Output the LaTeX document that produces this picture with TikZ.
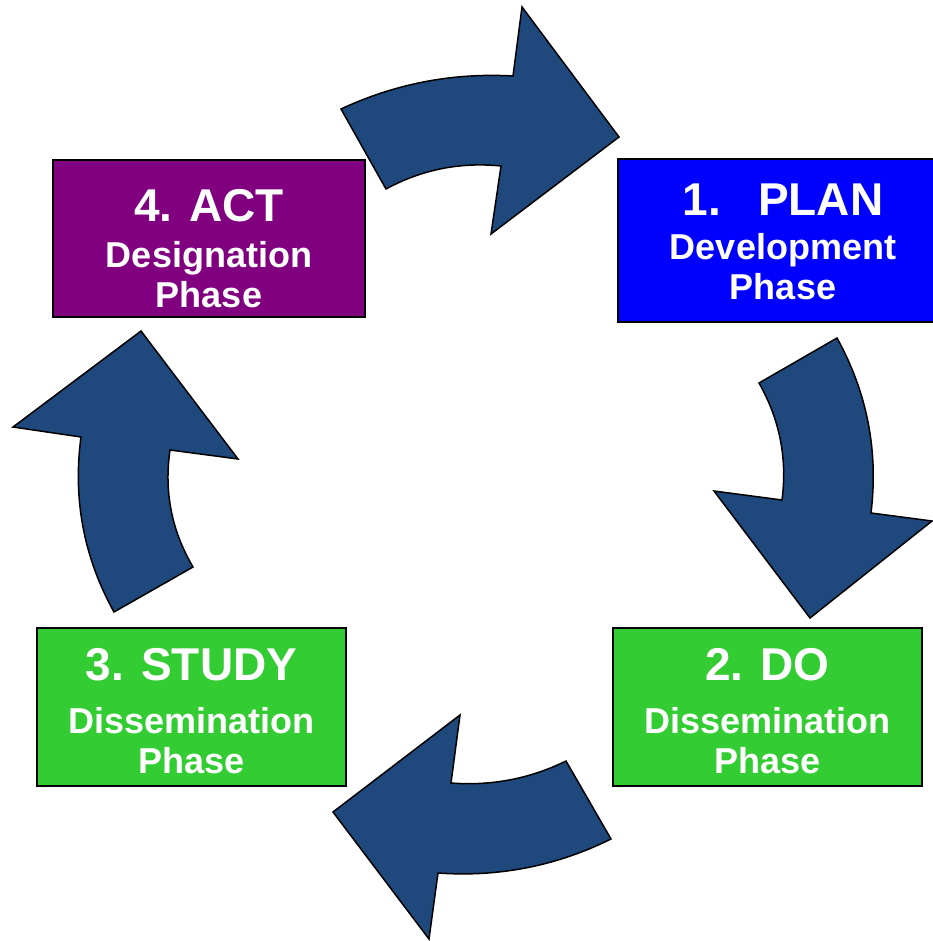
\documentclass[tikz,border=0pt]{standalone}
\usepackage{fontspec}
\setmainfont{Liberation Sans}

\definecolor{actpurple}{RGB}{128,0,128}
\definecolor{planblue}{RGB}{0,0,255}
\definecolor{dogreen}{RGB}{51,204,51}
\definecolor{cyclenavy}{RGB}{31,73,125}

\newcommand{\phasetitle}[2]{{\fontsize{46}{46}\selectfont\rule{0pt}{#1}#2}}

\tikzset{
	phasebox/.style={draw=black, line width=2pt, fill=#1, text=white, inner sep=0pt,
		align=center, font=\bfseries\fontsize{36}{40}\selectfont},
	cyclearrow/.style={draw=black, line width=1.5pt, fill=cyclenavy, line join=miter}
}

\begin{document}
\begin{tikzpicture}[x=1pt, y=-1pt]
		\useasboundingbox (0,0) rectangle (932,941);
		
		\draw[cyclearrow] (341,109) .. controls (395.5,83.6) and (452.9,72.6) .. (513,76) -- (522,7) -- (619,137) -- (491,234) -- (501,166) .. controls (460.3,161.9) and (422,169.5) .. (386,189) -- cycle;
		\draw[cyclearrow] (837,338) .. controls (867.2,392.7) and (878.5,451) .. (871,513) -- (932,521) -- (810,618) -- (714,491) -- (782,500) .. controls (787.4,458.4) and (779.7,419.4) .. (759,383) -- cycle;
		\draw[cyclearrow] (611,839) .. controls (556.4,866) and (498.7,877.3) .. (438,873) -- (429,939) -- (333,812) -- (460,715) -- (451,783) .. controls (491.3,786.1) and (529.7,778.8) .. (566,761) -- cycle;
		\draw[cyclearrow] (114,612) .. controls (83.7,557.3) and (72.7,498.9) .. (81,437) -- (13,427) -- (141,331) -- (238,459) -- (170,450) .. controls (163.9,491.7) and (171.6,530.7) .. (193,567) -- cycle;
		
		\node[phasebox=actpurple, minimum width=312, minimum height=157] (act) at (209,238.5) {\phasetitle{52pt}{4. ACT}\\[6pt]Designation\\Phase};
		\node[phasebox=planblue, minimum width=330, minimum height=163] (plan) at (783,240.5) {\phasetitle{34pt}{1.\hspace{37pt}PLAN}\\[4pt]Development\\Phase};
		\node[phasebox=dogreen, minimum width=309, minimum height=158] (study) at (191.5,707) {\phasetitle{40pt}{3. STUDY}\\[13pt]Dissemination\\Phase};
		\node[phasebox=dogreen, minimum width=309, minimum height=158] (do) at (767.5,707) {\phasetitle{40pt}{2. DO}\\[13pt]Dissemination\\Phase};
	\end{tikzpicture}
\end{document}
